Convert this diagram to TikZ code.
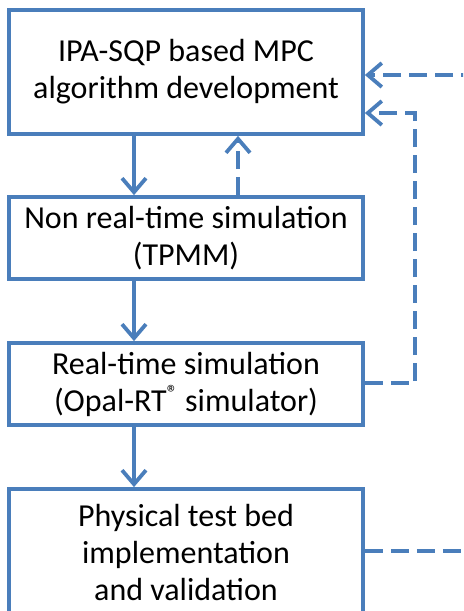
\documentclass[tikz,border=0pt]{standalone}
\usepackage{fontspec}
\setmainfont{Carlito}
\usetikzlibrary{arrows.meta}
\definecolor{flowblue}{HTML}{4A7EBB}
\tikzset{
  stagebox/.style={draw=flowblue,line width=1.9pt,fill=white,minimum width=177pt,
    align=center,inner sep=2pt,font=\fontsize{16}{18.5}\selectfont},
  flowarrow/.style={draw=flowblue,line width=1.9pt,-{Straight Barb[length=7pt,width=12pt,line width=1.9pt]}},
  backarrow/.style={flowarrow,dash pattern=on 9pt off 4pt}
}

\begin{document}
\begin{tikzpicture}[x=0.5pt,y=-0.5pt]
  \useasboundingbox (0,0) rectangle (463,611);
  \clip (0,0) rectangle (463,611);
  \node[stagebox,minimum height=62pt] (algo) at (186,72) {IPA-SQP based MPC\\algorithm development};
  \node[stagebox,minimum height=41pt] (nrt) at (186,238) {Non real-time simulation\\(TPMM)};
  \node[stagebox,minimum height=41pt] (rt) at (186,384) {Real-time simulation\\(Opal-RT{\fontsize{11}{11}\selectfont\raisebox{0.5em}{®}} simulator)};
  \node[stagebox,minimum height=64pt] (phys) at (186,553) {Physical test bed\\implementation\\and validation};
  % forward flow
  \draw[flowarrow] (algo.south -| 134,0) -- (nrt.north -| 134,0);
  \draw[flowarrow] (nrt.south -| 134,0) -- (rt.north -| 134,0);
  \draw[flowarrow] (rt.south -| 134,0) -- (phys.north -| 134,0);
  % feedback loops
  \draw[backarrow] (nrt.north -| 238,0) -- (algo.south -| 238,0);
  \coordinate (inA) at (415,383);
  \coordinate (inB) at (415,113);
  \draw[backarrow] (rt.east |- inA) -- (inA) -- (inB) -- (algo.east |- inB);
  \coordinate (outA) at (470,551);
  \coordinate (outB) at (470,75);
  \draw[backarrow] (phys.east |- outA) -- (outA) -- (outB) -- (algo.east |- outB);
\end{tikzpicture}
\end{document}
